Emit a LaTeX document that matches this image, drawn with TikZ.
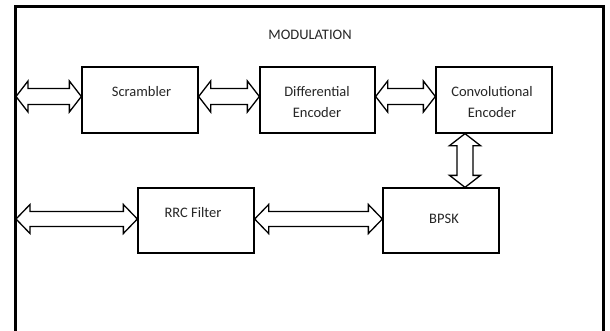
\documentclass[tikz,border=0pt]{standalone}
\usepackage{fontspec}
\setmainfont{Carlito}
\usetikzlibrary{calc}
\tikzset{
  box/.style={draw, line width=1.3pt, minimum width=116pt, minimum height=66pt, inner sep=0pt},
  txt/.style={font=\fontsize{14.5}{21}\selectfont, text=black!85, align=center, inner sep=0pt},
  blk/.style={draw, line width=1.3pt, line join=miter, fill=white},
  frame/.style={line width=3pt}
}
\newcommand\dblH[5]{% #1 left tip, #2 right tip, #3 shaft half, #4 head half, #5 head length
  \draw[blk] let \p1=(#1), \p2=(#2) in
    (\x1,\y1) -- (\x1+#5,\y1+#4) -- (\x1+#5,\y1+#3) -- (\x2-#5,\y1+#3) -- (\x2-#5,\y1+#4)
    -- (\x2,\y1) -- (\x2-#5,\y1-#4) -- (\x2-#5,\y1-#3) -- (\x1+#5,\y1-#3) -- (\x1+#5,\y1-#4) -- cycle;}
\newcommand\dblV[5]{% #1 top tip, #2 bottom tip
  \draw[blk] let \p1=(#1), \p2=(#2) in
    (\x1,\y1) -- (\x1+#4,\y1-#5) -- (\x1+#3,\y1-#5) -- (\x1+#3,\y2+#5) -- (\x1+#4,\y2+#5)
    -- (\x1,\y2) -- (\x1-#4,\y2+#5) -- (\x1-#3,\y2+#5) -- (\x1-#3,\y1-#5) -- (\x1-#4,\y1-#5) -- cycle;}
\begin{document}
\begin{tikzpicture}[x=1pt,y=-1pt]
\useasboundingbox (0,0) rectangle (610,330);
\fill[white] (0,0) rectangle (610,330);
% frame
\draw[frame] (15,331) -- (15,6) -- (603,6) -- (603,331);
\coordinate (fl) at (16,0);
\node[txt] (title) at (310,35) {MODULATION};
% boxes
\node[box] (scr) at (140,100) {};
\node[box, minimum width=115pt] (dif) at (317.5,100) {};
\node[box] (conv) at (494,100) {};
\node[box, minimum height=65pt] (rrc) at (196,220.5) {};
\node[box, minimum height=65pt] (bpsk) at (441,220.5) {};
% labels
\node[txt] (tscr) at (141.5,92) {Scrambler};
\node[txt] (tdif) at (317,102.5) {Differential\\Encoder};
\node[txt] (tconv) at (492,102.5) {Convolutional\\Encoder};
\node[txt] (trrc) at (193,213) {RRC Filter};
\node[txt] (tbpsk) at (444,219) {BPSK};
% arrows
\coordinate (rowA) at (0,96.5);
\coordinate (rowB) at (0,219);
\coordinate (colV) at (465,0);
\dblH{fl |- rowA}{scr.west |- rowA}{8pt}{15.5pt}{12pt}
\dblH{scr.east |- rowA}{dif.west |- rowA}{8pt}{15.5pt}{12pt}
\dblH{dif.east |- rowA}{conv.west |- rowA}{8pt}{15.5pt}{12pt}
\dblV{colV |- conv.south}{colV |- bpsk.north}{8pt}{15.5pt}{12pt}
\dblH{fl |- rowB}{rrc.west |- rowB}{7.5pt}{14.5pt}{14pt}
\dblH{rrc.east |- rowB}{bpsk.west |- rowB}{7.5pt}{14.5pt}{14pt}
\end{tikzpicture}
\end{document}
